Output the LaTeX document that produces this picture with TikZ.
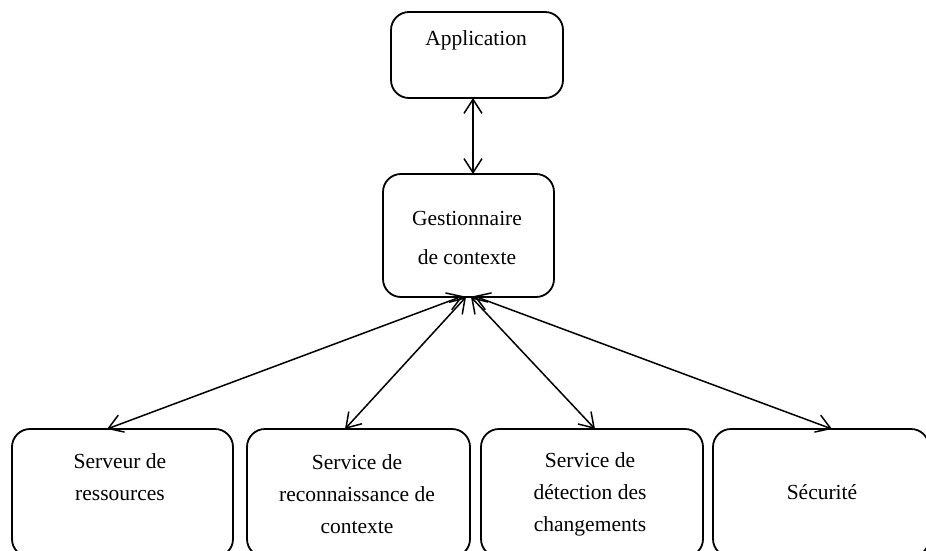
\documentclass[tikz,border=0pt]{standalone}
\usepackage{fontspec}
\setmainfont{Liberation Serif}
\usetikzlibrary{arrows.meta}
\begin{document}
\begin{tikzpicture}[x=1pt,y=-1pt,
  box/.style={draw=black, line width=1.8pt, rounded corners=18pt, inner sep=0pt},
  lbl/.style={align=center, inner sep=0pt, font=\fontsize{21.5}{32}\selectfont},
  tip/.tip={Straight Barb[length=14pt,width=18pt]},
  conn/.style={line width=1.5pt, tip-tip}]
  \clip (0,0) rectangle (926,551);
  \fill[white] (0,0) rectangle (926,551);

  % boxes
  \node[box, minimum width=172pt, minimum height=86pt]  (app)  at (477,55)    {};
  \node[box, minimum width=171pt, minimum height=123pt] (gest) at (468.5,235.5) {};
  \node[box, minimum width=221pt, minimum height=128pt] (b1)   at (122.5,493) {};
  \node[box, minimum width=223pt, minimum height=128pt] (b2)   at (358.5,493) {};
  \node[box, minimum width=222pt, minimum height=128pt] (b3)   at (592,493)   {};
  \node[box, minimum width=216pt, minimum height=128pt] (b4)   at (821,493)   {};

  % labels
  \node[lbl] (tapp)  at (476,40)    {Application};
  \node[lbl, font=\fontsize{21.5}{39}\selectfont] (tgest) at (467,238) {Gestionnaire\\de contexte};
  \node[lbl] (tb1)   at (120,477)   {Serveur de\\ressources};
  \node[lbl] (tb2)   at (357,494)   {Service de\\reconnaissance de\\contexte};
  \node[lbl] (tb3)   at (590,494)   {Service de\\détection des\\changements};
  \node[lbl] (tb4)   at (822,492)   {Sécurité};

  % connector ends
  \coordinate (a1) at (473,98);
  \coordinate (a2) at (473,174);
  \coordinate (h1) at (463,296);
  \coordinate (h2) at (466,297);
  \coordinate (h3) at (471,297);
  \coordinate (h4) at (474,296);
  \coordinate (t1) at (107,429);
  \coordinate (t2) at (345,429);
  \coordinate (t3) at (595,429);
  \coordinate (t4) at (832,429);

  % connectors
  \draw[conn] (a1) -- (a2);
  \draw[conn] (h1) -- (t1);
  \draw[conn] (h2) -- (t2);
  \draw[conn] (h3) -- (t3);
  \draw[conn] (h4) -- (t4);
\end{tikzpicture}
\end{document}
